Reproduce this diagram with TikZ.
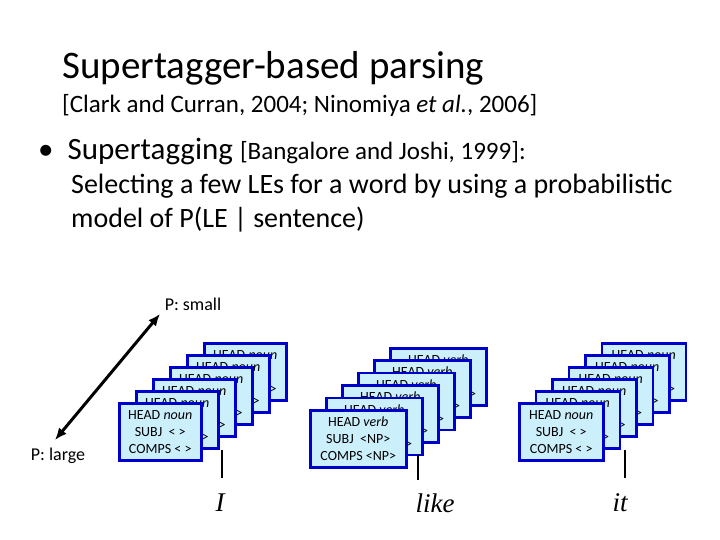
\documentclass[tikz,border=0pt]{standalone}
\usepackage{fontspec}
\setmainfont{Carlito}
\newfontfamily\serifw{Liberation Serif}
\usetikzlibrary{arrows.meta}
\begin{document}
\begin{tikzpicture}[x=1pt,y=-1pt,
  lebox/.style={draw=blue!80!black,line width=2.5pt,fill=cyan!20,minimum height=57pt,anchor=north west,inner sep=0pt,font=\fontsize{14}{17}\selectfont,align=center},
  word/.style={font=\serifw\itshape\fontsize{27}{27}\selectfont}]
\useasboundingbox (0,0) rectangle (720,540);
\node[anchor=base west,inner sep=0pt,font=\fontsize{39}{39}\selectfont] (t) at (62,79) {Supertagger-based parsing};
\node[anchor=base west,inner sep=0pt,font=\fontsize{25}{25}\selectfont] (c) at (62,113) {[Clark and Curran, 2004; Ninomiya \textit{et al.}, 2006]};
\node[anchor=base west,inner sep=0pt,font=\fontsize{31}{31}\selectfont] (b) at (38,160) {\textbullet\ \ Supertagging {\fontsize{25}{25}\selectfont[Bangalore and Joshi, 1999]:}};
\node[anchor=base west,inner sep=0pt,font=\fontsize{28}{28}\selectfont] (s1) at (71,194) {Selecting a few LEs for a word by using a probabilistic};
\node[anchor=base west,inner sep=0pt,font=\fontsize{28}{28}\selectfont] (s2) at (71,227) {model of P(LE | sentence)};
\node[font=\fontsize{18}{18}\selectfont] (ps) at (193,304) {P: small};
\node[font=\fontsize{18}{18}\selectfont] (pl) at (58,456) {P: large};
\coordinate (a1) at (160,314);
\coordinate (a2) at (55,440);
\draw[line width=3pt,{Latex[length=12pt,width=10pt]}-{Latex[length=12pt,width=10pt]}] (a1) -- (a2);
% group I
\foreach \i in {5,4,3,2,1,0}{
  \node[lebox,minimum width=82pt] (I\i) at (118+17*\i,402-12*\i) {HEAD \textit{noun}\\SUBJ\ \ \textless\ \textgreater\\COMPS \textless\ \textgreater};}
\coordinate (Iw) at (222,478);
\draw[line width=2.5pt] (222,450) -- (Iw);
\node[word] (wI) at (220,503) {I};
% group like
\foreach \i in {5,4,3,2,1,0}{
  \node[lebox,minimum width=96pt] (L\i) at (309+16*\i,409-12.4*\i) {HEAD \textit{verb}\\SUBJ\ \ \textless NP\textgreater\\COMPS \textless NP\textgreater};}
\draw[line width=2.5pt] (418,455) -- (418,480);
\node[word] (wl) at (435,503) {like};
% group it
\foreach \i in {5,4,3,2,1,0}{
  \node[lebox,minimum width=84pt] (T\i) at (518+16.5*\i,402-12*\i) {HEAD \textit{noun}\\SUBJ\ \ \textless\ \textgreater\\COMPS \textless\ \textgreater};}
\draw[line width=2.5pt] (625,450) -- (625,478);
\node[word] (wi) at (620,503) {it};
\end{tikzpicture}
\end{document}
